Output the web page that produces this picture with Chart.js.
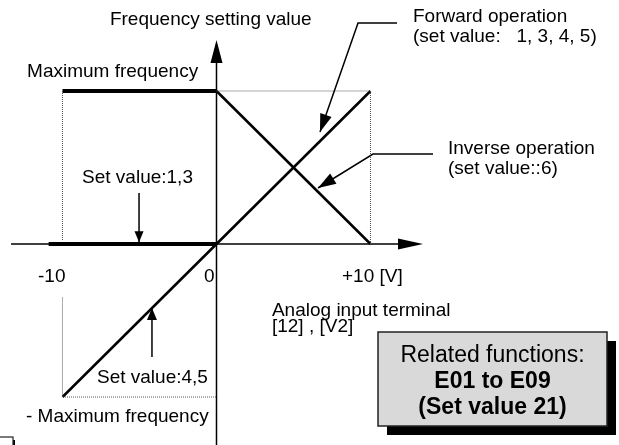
<!DOCTYPE html>
<html><head><meta charset="utf-8">
<script src="https://cdn.jsdelivr.net/npm/chart.js@4/dist/chart.umd.min.js"></script>
<style>html,body{margin:0;padding:0;background:#fff;overflow:hidden}</style>
</head><body>
<canvas id="c" width="619" height="445"></canvas>
<script>
// ---- data (volts on x, % of maximum frequency on y) ----
const xTickValues = [-10, 0, 10];
const xTickLabels = ["-10", "0", "+10 [V]"];
const forwardX = [-10, 10];
const forwardY = [-100, 100];
const inverseX = [0, 10];
const inverseY = [100, 0];
const maxFreqX = [-10, 0];
const maxFreqY = [100, 100];
const setValue13X = [-10.9, 0];
const setValue13Y = [0, 0];
const guideTopX = [0, 10, 10];
const guideTopY = [100, 100, 0];
const guideLeftX = [-10, -10];
const guideLeftY = [100, 2];
const guideLowX = [-10, -10, 0];
const guideLowY = [-35, -100, -100];

const pts = (xs, ys) => xs.map((x, i) => ({x: x, y: ys[i]}));

const FONT = '19px "Liberation Sans", Arial, sans-serif';
const BOX_FONT = '23px "Liberation Sans", Arial, sans-serif';
const BOX_FONT_B = 'bold 23px "Liberation Sans", Arial, sans-serif';

// annotation layout (data units)
const labels = [
  {t: "Frequency setting value", x: -6.92, y: 143.1},
  {t: "Maximum frequency", x: -12.3, y: 109.2},
  {t: "Forward operation", x: 12.76, y: 145.1},
  {t: "(set value:   1, 3, 4, 5)", x: 12.76, y: 132.0},
  {t: "Inverse operation", x: 15.03, y: 58.8},
  {t: "(set value::6)", x: 15.03, y: 45.7},
  {t: "Set value:1,3", x: -8.73, y: 39.9},
  {t: "Analog input terminal", x: 3.6, y: -47.1},
  {t: "[12] , [V2]", x: 3.6, y: -57.5},
  {t: "Set value:4,5", x: -7.76, y: -90.8},
  {t: "- Maximum frequency", x: -12.37, y: -116.3}
];
const tickDx = [-24.5, -12.5, -28.5];
const tickY = -24.8;

const pointers = [
  {path: [[11.72, 144.4], [9.19, 144.4], [6.72, 73.2]], len: 18, hw: 6},
  {path: [[14.06, 58.8], [10.16, 58.8], [6.59, 36.6]], len: 18, hw: 6},
  {path: [[-5.03, 33.3], [-5.03, 1.2]], len: 11, hw: 4.5},
  {path: [[-4.19, -73.9], [-4.19, -41.8]], len: 12, hw: 5}
];

function head(ctx, x1, y1, x2, y2, len, hw) {
  const a = Math.atan2(y2 - y1, x2 - x1);
  const bx = x2 - len * Math.cos(a), by = y2 - len * Math.sin(a);
  const nx = -Math.sin(a) * hw, ny = Math.cos(a) * hw;
  ctx.beginPath();
  ctx.moveTo(x2, y2);
  ctx.lineTo(bx + nx, by + ny);
  ctx.lineTo(bx - nx, by - ny);
  ctx.closePath();
  ctx.fill();
}

const diagramPlugin = {
  id: 'diagram',
  beforeDatasetsDraw(chart) {
    const ctx = chart.ctx, X = v => chart.scales.x.getPixelForValue(v), Y = v => chart.scales.y.getPixelForValue(v);
    ctx.save();
    ctx.strokeStyle = '#000'; ctx.fillStyle = '#000'; ctx.lineWidth = 1.5;
    // x axis
    ctx.beginPath(); ctx.moveTo(X(-13.34), Y(0)); ctx.lineTo(X(12.0), Y(0)); ctx.stroke();
    head(ctx, X(0), Y(0), X(13.41), Y(0), 25, 5.5);
    // y axis
    ctx.beginPath(); ctx.moveTo(X(0), Y(-135)); ctx.lineTo(X(0), Y(120)); ctx.stroke();
    head(ctx, X(0), Y(0), X(0), Y(133.3), 23, 6);
    ctx.restore();
  },
  afterDatasetsDraw(chart) {
    const ctx = chart.ctx, X = v => chart.scales.x.getPixelForValue(v), Y = v => chart.scales.y.getPixelForValue(v);
    ctx.save();
    ctx.strokeStyle = '#000'; ctx.fillStyle = '#000';
    // pointer arrows
    ctx.lineWidth = 1.5;
    pointers.forEach(p => {
      ctx.beginPath();
      p.path.forEach((q, i) => { const px = X(q[0]), py = Y(q[1]); if (i) ctx.lineTo(px, py); else ctx.moveTo(px, py); });
      ctx.stroke();
      const n = p.path.length, a = p.path[n - 2], b = p.path[n - 1];
      head(ctx, X(a[0]), Y(a[1]), X(b[0]), Y(b[1]), p.len, p.hw);
    });
    // labels
    ctx.font = FONT; ctx.textBaseline = 'alphabetic'; ctx.textAlign = 'left';
    labels.forEach(l => ctx.fillText(l.t, X(l.x), Y(l.y)));
    xTickValues.forEach((v, i) => ctx.fillText(xTickLabels[i], X(v) + tickDx[i], Y(tickY)));
    // related functions box
    const bx = 378, by = 332, bw = 229, bh = 94;
    ctx.fillStyle = '#000'; ctx.fillRect(bx + 9, by + 9, bw, bh);
    ctx.fillStyle = '#d9d9d9'; ctx.fillRect(bx, by, bw, bh);
    ctx.strokeStyle = '#222'; ctx.lineWidth = 1.5; ctx.strokeRect(bx, by, bw, bh);
    ctx.fillStyle = '#000'; ctx.textAlign = 'center';
    const cx = bx + bw / 2;
    ctx.font = BOX_FONT; ctx.fillText('Related functions:', cx, 362);
    ctx.font = BOX_FONT_B; ctx.fillText('E01 to E09', cx, 388); ctx.fillText('(Set value 21)', cx, 414);
    // small clipped box at bottom-left
    ctx.fillStyle = '#000'; ctx.fillRect(-4, 440, 19, 10);
    ctx.fillStyle = '#fff'; ctx.fillRect(-6, 437, 19, 10);
    ctx.strokeStyle = '#222'; ctx.lineWidth = 1.2; ctx.strokeRect(-6, 437, 19, 10);
    ctx.restore();
  }
};

const solid = (data, w) => ({data: data, showLine: true, borderColor: '#000', borderWidth: w, pointRadius: 0, fill: false, borderCapStyle: 'butt'});
const dotted = data => ({data: data, showLine: true, borderColor: '#555', borderWidth: 1, borderDash: [1, 1], pointRadius: 0, fill: false});

new Chart(document.getElementById('c'), {
  type: 'scatter',
  data: {
    datasets: [
      dotted(pts(guideTopX, guideTopY)),
      dotted(pts(guideLeftX, guideLeftY)),
      dotted(pts(guideLowX, guideLowY)),
      solid(pts(forwardX, forwardY), 2.5),
      solid(pts(inverseX, inverseY), 2.5),
      solid(pts(maxFreqX, maxFreqY), 4),
      solid(pts(setValue13X, setValue13Y), 4)
    ]
  },
  options: {
    responsive: false, animation: false, events: [],
    layout: {padding: 0},
    plugins: {legend: {display: false}, tooltip: {enabled: false}},
    scales: {
      x: {type: 'linear', display: false, min: -14.058, max: 26.136},
      y: {type: 'linear', display: false, min: -131.37, max: 159.48}
    }
  },
  plugins: [diagramPlugin]
});
</script>
</body></html>
